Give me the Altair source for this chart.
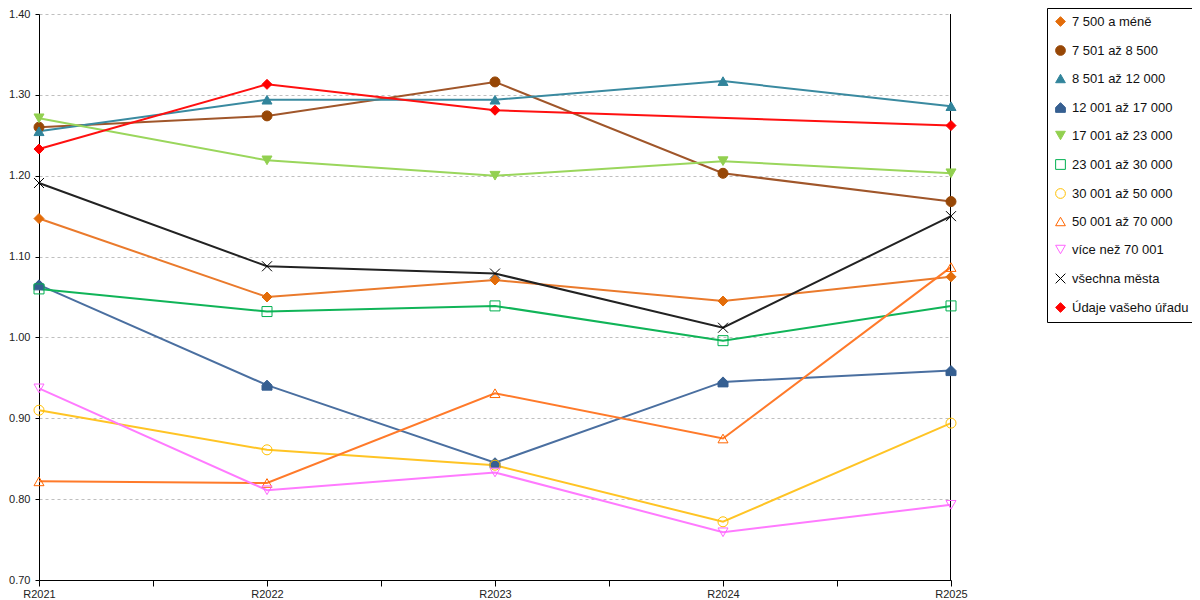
import json
import altair as alt
import pandas as pd

years = ["R2021", "R2022", "R2023", "R2024", "R2025"]
series = ["7 500 a méně", "7 501 až 8 500", "8 501 až 12 000", "12 001 až 17 000",
          "17 001 až 23 000", "23 001 až 30 000", "30 001 až 50 000",
          "50 001 až 70 000", "více než 70 001", "všechna města", "Údaje vašeho úřadu"]

v_7500 = [1.147, 1.050, 1.071, 1.045, 1.075]
v_8500 = [1.260, 1.274, 1.316, 1.203, 1.168]
v_12000 = [1.255, 1.294, 1.294, 1.317, 1.286]
v_17000 = [1.065, 0.941, 0.845, 0.945, 0.959]
v_23000 = [1.271, 1.219, 1.200, 1.218, 1.203]
v_30000 = [1.060, 1.032, 1.039, 0.996, 1.039]
v_50000 = [0.910, 0.861, 0.842, 0.772, 0.894]
v_70000 = [0.822, 0.820, 0.931, 0.875, 1.087]
v_over = [0.937, 0.811, 0.833, 0.759, 0.793]
v_all = [1.191, 1.088, 1.079, 1.012, 1.150]
v_office = [1.233, 1.313, 1.281, None, 1.262]

values = [v_7500, v_8500, v_12000, v_17000, v_23000, v_30000,
          v_50000, v_70000, v_over, v_all, v_office]

marker_colors = ["#e36c09", "#974706", "#31849b", "#365f91", "#92d050", "#00b050",
                 "#ffc000", "#ff6600", "#ff66ff", "#000000", "#ff0000"]
line_colors = ["#ea7a2c", "#a0562a", "#3a8aa0", "#4a6fa0", "#9ad65c", "#10b458",
               "#ffc425", "#ff7a2a", "#ff7aff", "#222222", "#ff1010"]
fills = ["#e36c09", "#974706", "#31849b", "#365f91", "#92d050", "transparent",
         "transparent", "transparent", "transparent", "transparent", "#ff0000"]
house = "M-1,1L-1,0L0,-1L1,0L1,1Z"
xshape = "M-1,-1L1,1M-1,1L1,-1"
shapes = ["diamond", "circle", "triangle-up", house, "triangle-down", "square",
          "circle", "triangle-up", "triangle-down", xshape, "diamond"]

rows = []
for s, vals, lc in zip(series, values, line_colors):
    for i, v in enumerate(vals):
        if v is not None:
            rows.append({"series": s, "idx": i, "year": years[i], "value": v,
                         "line_color": lc})
df = pd.DataFrame(rows)

FONT = "Liberation Sans"

label_expr = f"datum.value % 1 === 0 ? {json.dumps(years)}[datum.value] : ''"

x_enc = alt.X("idx:Q", title=None,
              scale=alt.Scale(domain=[0, 4], nice=False, zero=False),
              axis=alt.Axis(values=[0, 0.5, 1, 1.5, 2, 2.5, 3, 3.5, 4],
                            labelExpr=label_expr, grid=False,
                            domainColor="black", tickColor="black", tickSize=6,
                            labelPadding=2, labelColor="#222222",
                            labelFont=FONT, labelFontSize=11, labelFlush=False))
y_enc = alt.Y("value:Q", title=None,
              scale=alt.Scale(domain=[0.7, 1.4], nice=False, zero=False),
              axis=alt.Axis(values=[0.7, 0.8, 0.9, 1.0, 1.1, 1.2, 1.3, 1.4],
                            format=".2f", grid=True, gridDash=[3, 3],
                            gridColor="#bfbfbf", domainColor="black",
                            tickColor="black", tickSize=4, labelPadding=5,
                            labelColor="#222222", labelFont=FONT,
                            labelFontSize=11))

base = alt.Chart(df)

lines = base.mark_line(strokeWidth=2).encode(
    x=x_enc, y=y_enc,
    color=alt.Color("line_color:N", scale=None),
    detail="series:N",
    order="idx:Q",
)

leg = alt.Legend(orient="none", legendX=1008, legendY=-6, strokeColor="black",
                 fillColor="white", padding=7, labelFont=FONT, labelFontSize=13,
                 labelColor="#111111", symbolSize=95, rowPadding=14,
                 symbolStrokeWidth=1, labelOffset=5, symbolOpacity=1,
                 labelLimit=300)

points = base.mark_point(opacity=1, strokeWidth=1, size=100).encode(
    x=x_enc, y=y_enc,
    stroke=alt.Stroke("series:N", title=None, legend=leg,
                      scale=alt.Scale(domain=series, range=marker_colors)),
    fill=alt.Fill("series:N", title=None, legend=leg,
                  scale=alt.Scale(domain=series, range=fills)),
    shape=alt.Shape("series:N", title=None, legend=leg,
                    scale=alt.Scale(domain=series, range=shapes)),
)

right_rule = alt.Chart(pd.DataFrame({"idx": [4]})).mark_rule(
    color="black", strokeWidth=1, xOffset=-0.5).encode(x="idx:Q")

chart = alt.layer(lines, right_rule, points).properties(
    width=912, height=566,
    padding={"left": 31, "top": 6, "right": 241, "bottom": 20},
    autosize=alt.AutoSizeParams(type="none"),
).configure_view(stroke=None)

chart.save("out.html", embed_options={"renderer": "svg", "actions": False})
